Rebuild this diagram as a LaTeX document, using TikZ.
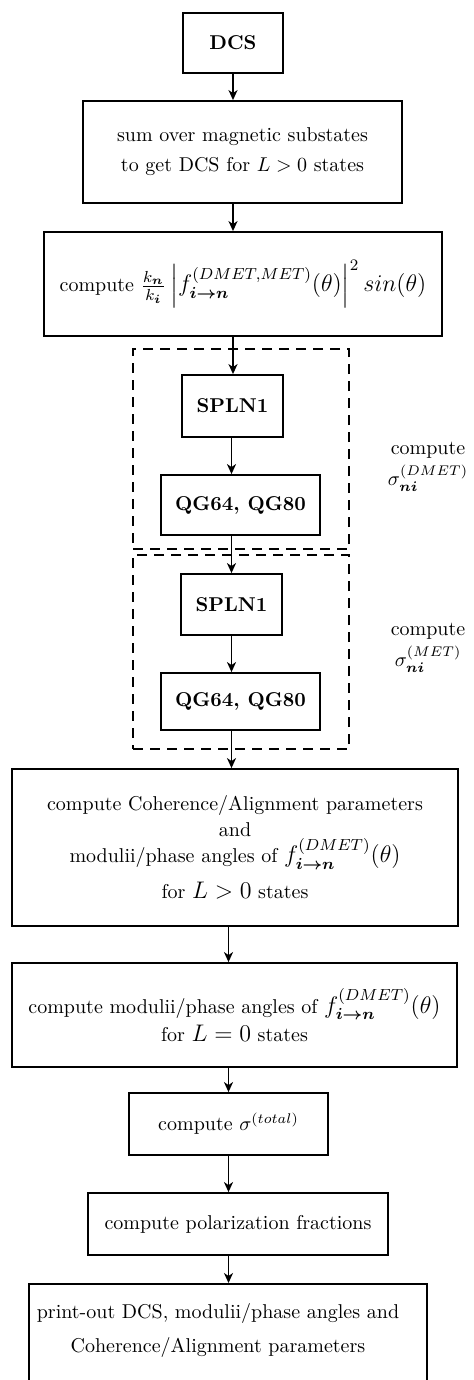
\documentclass[tikz,border=0pt]{standalone}
\usepackage{amsmath}
\usepackage{bm}
\usetikzlibrary{arrows.meta}
\begin{document}
\begin{tikzpicture}[x=0.5pt,y=-0.5pt,
  box/.style={draw, line width=0.9pt, inner sep=2pt, align=center},
  grp/.style={draw, line width=0.8pt, dash pattern=on 5pt off 3.5pt},
  flow/.style={line width=0.9pt, -{Stealth[length=5pt,width=4.5pt,inset=1.5pt]}},
  note/.style={align=center, inner sep=0pt}]
\useasboundingbox (0,0) rectangle (474,1380);
\clip (0,0) rectangle (474,1380);

% main chain
\node[box, minimum width=50pt, minimum height=30pt] (dcs) at (233,43) {\bfseries DCS};
\node[box, minimum width=159.5pt, minimum height=51pt] (sum) at (242.5,152)
  {sum over magnetic substates\\[3pt] to get DCS for $L>0$ states};
\node[box, minimum width=199pt, minimum height=52pt] (kfac) at (243,284)
  {compute {\large $\frac{k_{\bm n}}{k_{\bm i}}\left|f^{(DMET,MET)}_{\bm{i\to n}}(\theta)\right|^2 sin(\theta)$}};

% integration groups
\node[grp, minimum width=108pt, minimum height=100pt] (grpA) at (241,449) {};
\node[grp, minimum width=108pt, minimum height=97pt] (grpB) at (241,652) {};
\node[box, minimum width=50.5pt, minimum height=31pt] (spA) at (232.5,406) {\bfseries SPLN1};
\node[box, minimum width=79.5pt, minimum height=30pt] (qgA) at (240.5,505) {\bfseries QG64, QG80};
\node[box, minimum width=50.5pt, minimum height=30.5pt] (spB) at (231.5,604.5) {\bfseries SPLN1};
\node[box, minimum width=79.5pt, minimum height=28.5pt] (qgB) at (240.5,701.5) {\bfseries QG64, QG80};
\node[note] (labA) at (428,467) {compute\\[2pt] $\sigma^{(DMET)}_{\bm{ni}}$};
\node[note] (labB) at (428,648) {compute\\[2pt] $\sigma^{(MET)}_{\bm{ni}}$};

% post-processing
\node[box, minimum width=223pt, minimum height=78.5pt] (coh) at (235,847.5)
  {compute Coherence/Alignment parameters\\[1pt] and\\
   modulii/phase angles of {\large $f^{(DMET)}_{\bm{i\to n}}(\theta)$}\\[6pt]
   for {\large $L>0$} states};
\node[box, minimum width=222.5pt, minimum height=52pt] (mod0) at (234.5,1015)
  {compute modulii/phase angles of {\large $f^{(DMET)}_{\bm{i\to n}}(\theta)$}\\[2pt]
   for {\large $L=0$} states};
\node[box, minimum width=99.5pt, minimum height=31pt] (tot) at (228.5,1124) {compute $\sigma^{(total)}$};
\node[box, minimum width=150pt, minimum height=31pt] (pol) at (238,1224) {compute polarization fractions};
\node[box, minimum width=199pt, minimum height=60pt, anchor=north] (out) at (228,1283) {};
\node[note] (outtxt) at (218,1330)
  {print-out DCS, modulii/phase angles and\\[5pt] Coherence/Alignment parameters};

% connectors
\draw[flow] (dcs.south) -- (dcs |- sum.north);
\draw[flow] (dcs |- sum.south) -- (dcs |- kfac.north);
\draw[flow] (dcs |- kfac.south) -- (dcs |- spA.north);
\draw[flow] (spB |- spA.south) -- (spB |- qgA.north);
\draw[flow] (spB |- qgA.south) -- (spB.north);
\draw[flow] (spB.south) -- (spB |- qgB.north);
\draw[flow] (spB |- qgB.south) -- (spB |- coh.north);
\draw[flow] (tot |- coh.south) -- (tot |- mod0.north);
\draw[flow] (tot |- mod0.south) -- (tot.north);
\draw[flow] (tot.south) -- (tot |- pol.north);
\draw[flow] (tot |- pol.south) -- (tot |- out.north);
\end{tikzpicture}
\end{document}
